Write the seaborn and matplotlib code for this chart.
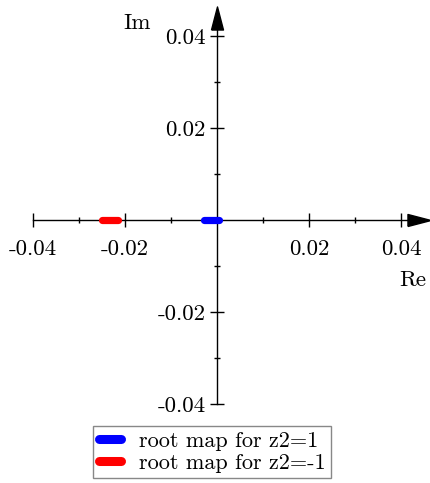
import numpy as np
import pandas as pd
import matplotlib
matplotlib.use("Agg")
import matplotlib.pyplot as plt
import seaborn as sns

blue_re = [-0.0029, -0.0015, 0.0005]
blue_im = [0.0, 0.0, 0.0]
red_re = [-0.0251, -0.0233, -0.0216]
red_im = [0.0, 0.0, 0.0]
labels = ["root map for z2=1", "root map for z2=-1"]
colors = ["#0000ff", "#ff0000"]

major = [-0.04, -0.02, 0.02, 0.04]
major_lbl = ["-0.04", "-0.02", "0.02", "0.04"]
minor = [-0.03, -0.01, 0.01, 0.03]

df = pd.DataFrame({
    "re": blue_re + red_re,
    "im": blue_im + red_im,
    "series": [labels[0]] * len(blue_re) + [labels[1]] * len(red_re),
})

sns.set_theme(style="white")
plt.rcParams["font.family"] = ["cmr10", "DejaVu Serif"]
plt.rcParams["axes.unicode_minus"] = False
plt.rcParams["text.color"] = "black"

fig = plt.figure(figsize=(4.3, 4.83), dpi=100)
ax = fig.add_axes([0, 0, 1, 1])
ax.patch.set_alpha(0)

# pixel scale: 4600 px per unit, origin at (217, 220)
s = 4600.0
ax.set_xlim(-217 / s, 213 / s)
ax.set_ylim(-263 / s, 220 / s)

sns.lineplot(data=df, x="re", y="im", hue="series", palette=colors, sort=False,
             lw=5.2, solid_capstyle="round", ax=ax, legend=False, zorder=5)

for side in ["top", "right"]:
    ax.spines[side].set_visible(False)
ax.spines["left"].set_position(("data", 0))
ax.spines["bottom"].set_position(("data", 0))
ax.spines["bottom"].set_bounds(-0.04, 190 / s)
ax.spines["left"].set_bounds(-0.04, 190 / s)
for side in ["left", "bottom"]:
    ax.spines[side].set_color("black")
    ax.spines[side].set_linewidth(1.0)

ax.set_xticks(major)
ax.set_xticklabels(major_lbl)
ax.set_yticks(major)
ax.set_yticklabels(major_lbl)
ax.set_xticks(minor, minor=True)
ax.set_yticks(minor, minor=True)
ax.tick_params(which="both", bottom=True, left=True)
ax.tick_params(which="major", direction="inout", length=9.4, width=1.0,
               color="black", labelsize=16.5, labelcolor="black")
ax.tick_params(which="minor", direction="inout", length=4.3, width=1.0, color="black")
ax.tick_params(axis="x", pad=9.5)
ax.tick_params(axis="y", pad=3.5)
ax.set_xlabel("")
ax.set_ylabel("")

# arrow heads
head = [(-1, -0.52), (1, 0), (-1, 0.52), (-1, -0.52)]
ax.plot([201.5 / s], [0], marker=head, ms=16.6, color="black", clip_on=False, lw=0)
head_up = [(-0.52, -1), (0, 1), (0.52, -1), (-0.52, -1)]
ax.plot([0], [202.5 / s], marker=head_up, ms=16.6, color="black", clip_on=False, lw=0)

ax.text(196 / s, -60 / s, "Re", fontsize=16.5, ha="center", va="center", color="black")
ax.text(-80 / s, 197 / s, "Im", fontsize=16.5, ha="center", va="center", color="black")

handles = [plt.Line2D([], [], color=c, lw=6.5, solid_capstyle="round") for c in colors]
leg = ax.legend(handles, labels, loc="upper left", bbox_to_anchor=(93 / 430, 1 - 426 / 483),
                bbox_transform=fig.transFigure, borderaxespad=0, fontsize=16,
                fancybox=False, framealpha=1, edgecolor="#888888", handlelength=1.0,
                handletextpad=0.8, borderpad=0.25, labelspacing=0.1)
leg.get_frame().set_linewidth(1.0)
for t in leg.get_texts():
    t.set_color("black")

fig.savefig("out.png", dpi=100)
